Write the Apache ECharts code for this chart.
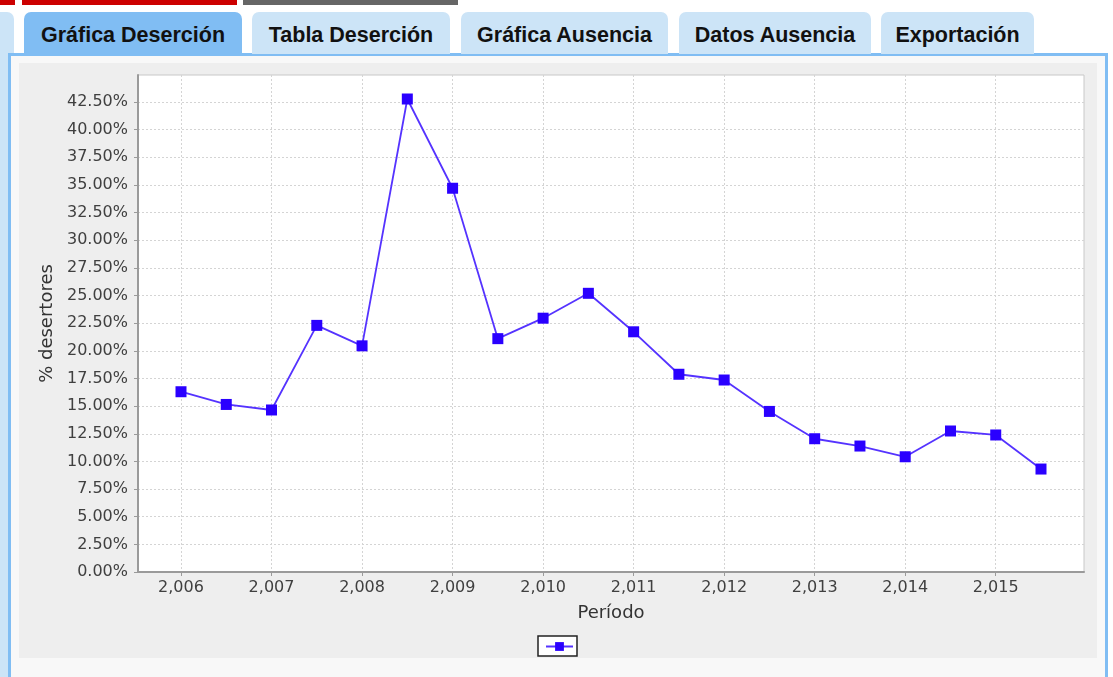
<!DOCTYPE html>
<html>
<head>
<meta charset="utf-8">
<script src="https://cdn.jsdelivr.net/npm/echarts@6/dist/echarts.min.js"></script>
<style>
  html, body { margin:0; padding:0; width:1113px; height:677px; overflow:hidden; background:#ffffff; }
  .bar { position:absolute; top:0; height:5px; }
  .tab { position:absolute; top:12px; height:42px; border-radius:7px 7px 0 0; background:#cce4f7;
         font-family:"Liberation Sans", Arial, sans-serif; font-weight:bold; font-size:21.5px; color:#111;
         text-align:center; line-height:47px; box-sizing:border-box; white-space:nowrap; }
  .tab.sel { background:#80bdf3; }
  #leftstrip { position:absolute; left:0; top:53px; width:8px; height:640px; background:#cce4f7; }
  #panel { position:absolute; left:8px; top:53px; width:1100px; height:640px; box-sizing:border-box;
           border:3px solid #80bdf3; background:#f8f8f8; }
  #chart { position:absolute; left:19px; top:63px; width:1078px; height:595px; }
</style>
</head>
<body>
<div class="bar" style="left:0;width:15px;background:#cc0000"></div>
<div class="bar" style="left:22px;width:215px;background:#cc0000"></div>
<div class="bar" style="left:243px;width:215px;background:#666666"></div>
<div class="tab" style="left:-12px;width:26px"></div>
<div id="leftstrip"></div>
<div id="panel"></div>
<div class="tab sel" style="left:24px;width:218px">Gráfica Deserción</div>
<div class="tab" style="left:252px;width:198px">Tabla Deserción</div>
<div class="tab" style="left:461px;width:207px">Gráfica Ausencia</div>
<div class="tab" style="left:679px;width:192px">Datos Ausencia</div>
<div class="tab" style="left:881px;width:153px">Exportación</div>
<div id="chart"></div>
<script>
// Data
const periods = [2006, 2006.5, 2007, 2007.5, 2008, 2008.5, 2009, 2009.5, 2010, 2010.5,
                 2011, 2011.5, 2012, 2012.5, 2013, 2013.5, 2014, 2014.5, 2015, 2015.5];
const desertores = [16.3, 15.15, 14.65, 22.3, 20.45, 42.77, 34.7, 21.1, 22.95, 25.2,
                    21.72, 17.88, 17.36, 14.52, 12.05, 11.39, 10.42, 12.75, 12.39, 9.31];
const xTicks = [2006, 2007, 2008, 2009, 2010, 2011, 2012, 2013, 2014, 2015];
const yTicks = [0, 2.5, 5, 7.5, 10, 12.5, 15, 17.5, 20, 22.5, 25, 27.5, 30, 32.5, 35, 37.5, 40, 42.5];

const seriesData = periods.map((p, i) => [p, desertores[i]]);
const font = '"DejaVu Sans", sans-serif';

const chart = echarts.init(document.getElementById('chart'), null, { renderer: 'canvas' });
chart.setOption({
  animation: false,
  backgroundColor: '#eeeeee',
  grid: {
    left: 119, top: 12, width: 946, height: 497,
    show: true, backgroundColor: '#ffffff', borderColor: '#c8c8c8', borderWidth: 1
  },
  xAxis: {
    type: 'value',
    min: 2005.525, max: 2015.975,
    name: 'Período', nameLocation: 'middle', nameGap: 32,
    nameTextStyle: { fontFamily: font, fontSize: 18, color: '#333' },
    axisLine: { lineStyle: { color: '#9a9a9a', width: 2 } },
    axisTick: { show: true, length: 4, customValues: xTicks, lineStyle: { color: '#9a9a9a' } },
    axisLabel: {
      customValues: xTicks, margin: 8,
      fontFamily: font, fontSize: 16, color: '#404040',
      formatter: v => Number(v).toLocaleString('en-US')
    },
    splitLine: { show: true, lineStyle: { color: '#d4d4d4', type: [2, 2], width: 1 } }
  },
  yAxis: {
    type: 'value',
    min: 0, max: 44.94,
    name: '% desertores', nameLocation: 'middle', nameGap: 80, nameRotate: 90,
    nameTextStyle: { fontFamily: font, fontSize: 18, color: '#333' },
    axisLine: { show: true, lineStyle: { color: '#9a9a9a', width: 2 } },
    axisTick: { show: true, length: 4, customValues: yTicks, lineStyle: { color: '#9a9a9a' } },
    axisLabel: {
      customValues: yTicks, margin: 10,
      fontFamily: font, fontSize: 16, color: '#404040',
      formatter: v => Number(v).toFixed(2) + '%'
    },
    splitLine: { show: true, lineStyle: { color: '#d4d4d4', type: [2, 2], width: 1 } }
  },
  legend: {
    show: true, left: 519, top: 573,
    padding: [5, 3, 5, 7], itemWidth: 27, itemHeight: 11, itemGap: 0,
    borderColor: '#222', borderWidth: 1.5, backgroundColor: '#ffffff',
    formatter: () => '',
    textStyle: { fontSize: 1 }
  },
  series: [{
    name: ' ',
    type: 'line',
    data: seriesData,
    symbol: 'rect', symbolSize: 11, showAllSymbol: true,
    lineStyle: { color: '#5533ff', width: 1.8 },
    itemStyle: { color: '#2a00ff' }
  }]
});
</script>
</body>
</html>
